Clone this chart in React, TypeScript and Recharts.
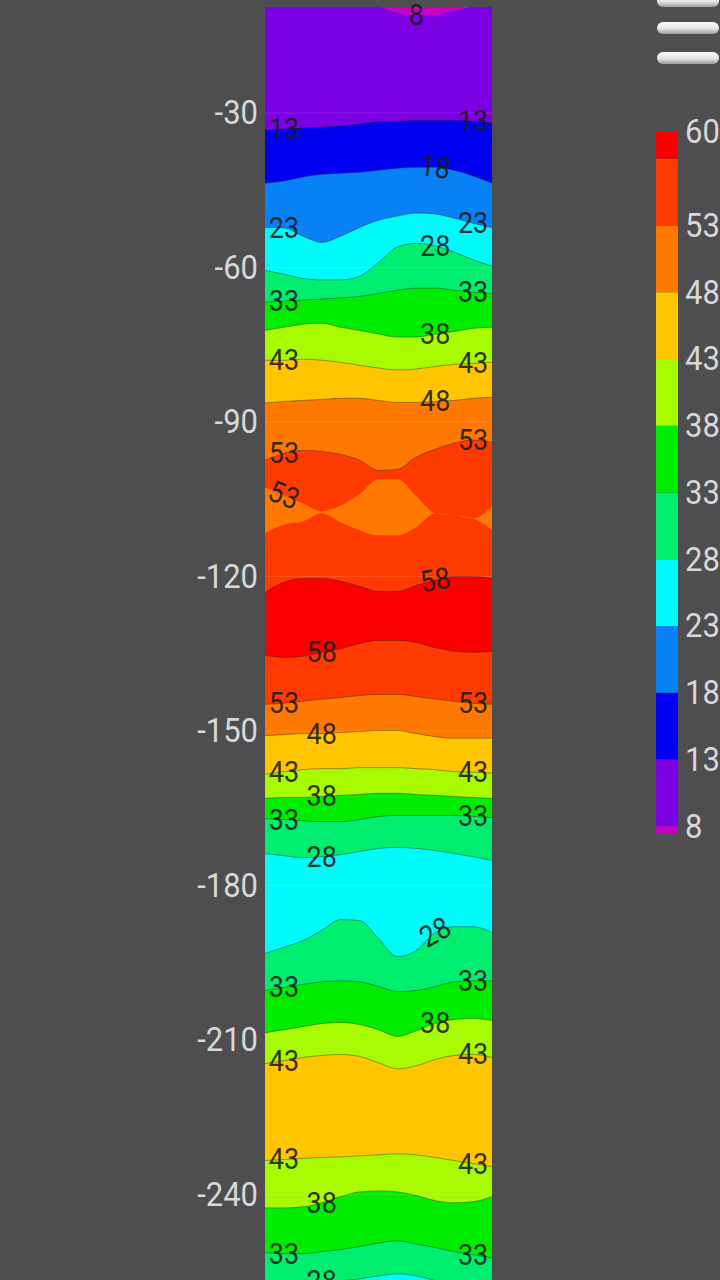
import React from "react";
import { ComposedChart, Area, XAxis, YAxis, CartesianGrid, Scatter, ReferenceLine, BarChart, Bar } from "recharts";

// columns across the strip (left edge = 0, right edge = 12)
const xs = [0, 1, 2, 3, 4, 5, 6, 7, 8, 9, 10, 11, 12];
const TOP = -9.4;
const BOTTOM = -270;
const depthTicks = [-30, -60, -90, -120, -150, -180, -210, -240];

// contour line depths, one value per column, top of the strip to the bottom
const isle8 = [TOP, TOP, TOP, TOP, TOP, TOP, TOP, -10.6, -11.0, -11.0, -10.2, TOP, TOP];
const c13 = [-33.3, -33.1, -32.9, -32.7, -32.5, -32.1, -31.7, -31.6, -31.4, -31.4, -31.4, -31.6, -31.9];
const c18 = [-43.6, -43.2, -42.4, -41.9, -41.7, -41.5, -41.1, -40.7, -40.5, -40.5, -41.1, -42.2, -43.6];
const c23 = [-52.2, -52.3, -53.9, -55.1, -53.9, -52.2, -50.8, -50.0, -49.4, -49.6, -50.4, -51.4, -52.2];
const c28 = [-60.5, -61.3, -62.1, -62.4, -62.4, -61.7, -59.0, -56.0, -55.3, -55.8, -57.0, -58.5, -59.7];
const c33 = [-66.7, -66.5, -66.3, -66.1, -65.9, -65.6, -65.0, -64.4, -64.0, -64.0, -64.4, -64.8, -65.0];
const c38 = [-72.2, -71.6, -71.0, -70.8, -71.6, -72.2, -72.9, -73.5, -73.5, -72.9, -72.4, -71.8, -71.6];
const c43 = [-78.0, -78.0, -77.8, -78.0, -78.4, -79.0, -79.5, -79.9, -79.7, -79.2, -78.8, -78.6, -78.4];
const c48 = [-86.3, -86.0, -85.8, -85.6, -85.4, -85.4, -85.8, -86.2, -86.2, -86.0, -85.8, -85.4, -85.2];
const c53a = [-97.4, -96.1, -95.5, -95.7, -96.3, -97.4, -99.4, -99.2, -96.8, -95.3, -94.1, -93.5, -93.9];
const isleTop = [-102.7, -104.2, -105.8, -107.3, -106.2, -104.0, -101.1, -101.1, -104.4, -107.7, -108.1, -108.7, -106.4];
const isleBot = [-111.6, -109.9, -109.3, -107.7, -109.5, -111.0, -112.0, -112.0, -110.4, -107.7, -108.1, -108.7, -111.0];
const c58a = [-123.1, -121.1, -120.4, -120.4, -120.9, -121.9, -122.9, -122.9, -121.7, -120.7, -120.0, -120.0, -120.4];
const c58b = [-135.3, -135.7, -135.5, -134.7, -134.0, -133.0, -132.4, -132.4, -132.8, -133.8, -134.5, -134.7, -134.5];
const c53b = [-144.8, -144.6, -144.2, -143.8, -143.5, -143.1, -142.9, -142.9, -143.3, -143.8, -144.2, -144.6, -144.8];
const c48b = [-150.9, -150.7, -150.5, -150.5, -150.3, -150.1, -149.9, -149.9, -150.5, -151.1, -151.4, -151.4, -151.4];
const c43b = [-158.4, -157.9, -157.5, -157.3, -157.3, -157.1, -157.1, -157.1, -157.3, -157.5, -157.9, -158.0, -158.2];
const c38b = [-163.1, -162.9, -162.9, -162.7, -162.5, -162.3, -162.1, -162.1, -162.3, -162.5, -162.7, -162.9, -163.1];
const c33b = [-167.0, -167.2, -167.4, -167.6, -167.6, -167.2, -166.6, -166.4, -166.4, -166.4, -166.4, -166.6, -166.8];
const c28b = [-173.8, -174.2, -174.6, -174.4, -174.0, -173.4, -172.8, -172.6, -172.8, -173.2, -173.8, -174.4, -175.1];
const c28c = [-193.2, -192.0, -190.7, -188.7, -186.6, -186.8, -190.3, -193.8, -192.6, -189.1, -188.0, -188.0, -189.1];
const c33c = [-200.4, -199.8, -199.2, -198.7, -198.5, -198.7, -199.6, -200.6, -200.4, -199.6, -198.7, -198.5, -198.5];
const c38c = [-208.6, -208.0, -207.4, -206.8, -206.6, -207.0, -208.0, -209.3, -208.2, -206.8, -206.0, -205.8, -206.2];
const c43c = [-214.6, -214.0, -213.4, -213.0, -212.8, -213.2, -214.4, -215.6, -215.0, -213.8, -213.0, -212.8, -213.4];
const c43d = [-233.4, -233.2, -233.0, -232.8, -232.7, -232.5, -232.3, -232.1, -232.3, -232.8, -233.4, -234.0, -234.6];
const c38d = [-242.6, -242.6, -242.4, -241.6, -240.4, -239.5, -239.3, -239.5, -240.2, -241.2, -241.6, -241.4, -240.4];
const c33d = [-251.3, -251.5, -251.5, -251.1, -250.7, -250.1, -249.4, -249.0, -249.6, -250.3, -251.1, -251.7, -252.3];
const c28d = [-258.3, -257.7, -257.3, -256.9, -256.7, -256.4, -255.8, -255.4, -255.8, -256.7, -257.7, -258.5, -259.1];

// colour scale
const cbLevels = [7.5, 8, 13, 18, 23, 28, 33, 38, 43, 48, 53, 58, 60];
const cbTicks = [8, 13, 18, 23, 28, 33, 38, 43, 48, 53, 60];

const MAGENTA = "#c800c8";
const PURPLE = "#7c00e4";
const BLUE = "#0000f0";
const AZURE = "#0880f6";
const CYAN = "#00fafa";
const SPRING = "#00ee70";
const GREEN = "#00ec00";
const YGREEN = "#a8fa00";
const GOLD = "#ffc600";
const ORANGE = "#ff7800";
const RORANGE = "#ff3a00";
const RED = "#fa0000";
const cbColors = [MAGENTA, PURPLE, BLUE, AZURE, CYAN, SPRING, GREEN, YGREEN, GOLD, ORANGE, RORANGE, RED];

const lines: Record<string, number[]> = {
  isle8, c13, c18, c23, c28, c33, c38, c43, c48, c53a, isleTop, isleBot,
  c58a, c58b, c53b, c48b, c43b, c38b, c33b, c28b, c28c, c33c, c38c, c43c, c43d, c38d, c33d, c28d,
};

// each band is painted from its upper contour down, in order
const bands = [
  { key: "c13", fill: BLUE, level: 13, at: [1, 11] },
  { key: "c18", fill: AZURE, level: 18, at: [9] },
  { key: "c23", fill: CYAN, level: 23, at: [1, 11] },
  { key: "c28", fill: SPRING, level: 28, at: [9] },
  { key: "c33", fill: GREEN, level: 33, at: [1, 11] },
  { key: "c38", fill: YGREEN, level: 38, at: [9] },
  { key: "c43", fill: GOLD, level: 43, at: [1, 11] },
  { key: "c48", fill: ORANGE, level: 48, at: [9] },
  { key: "c53a", fill: RORANGE, level: 53, at: [1, 11] },
  { key: "c58a", fill: RED, level: 58, at: [9] },
  { key: "c58b", fill: RORANGE, level: 58, at: [3] },
  { key: "c53b", fill: ORANGE, level: 53, at: [1, 11] },
  { key: "c48b", fill: GOLD, level: 48, at: [3] },
  { key: "c43b", fill: YGREEN, level: 43, at: [1, 11] },
  { key: "c38b", fill: GREEN, level: 38, at: [3] },
  { key: "c33b", fill: SPRING, level: 33, at: [1, 11] },
  { key: "c28b", fill: CYAN, level: 28, at: [3] },
  { key: "c28c", fill: SPRING, level: 28, at: [9] },
  { key: "c33c", fill: GREEN, level: 33, at: [1, 11] },
  { key: "c38c", fill: YGREEN, level: 38, at: [9] },
  { key: "c43c", fill: GOLD, level: 43, at: [1, 11] },
  { key: "c43d", fill: YGREEN, level: 43, at: [1, 11] },
  { key: "c38d", fill: GREEN, level: 38, at: [3] },
  { key: "c33d", fill: SPRING, level: 33, at: [1, 11] },
  { key: "c28d", fill: CYAN, level: 28, at: [3] },
];

const rotations: Record<string, number> = { "c28c:9": -30, "c58a:9": -10, "isleTop:1": 22, "c18:9": 8 };

const rows = xs.map((x, i) => {
  const r: Record<string, number> = { x };
  Object.keys(lines).forEach((k) => { r[k] = lines[k][i]; });
  return r;
});

const labelPts = [
  ...bands.flatMap((b) => b.at.map((i) => ({ x: xs[i], y: lines[b.key][i], text: b.level, rot: rotations[`${b.key}:${i}`] || 0 }))),
  { x: xs[1], y: isleTop[1], text: 53, rot: rotations["isleTop:1"] },
  { x: xs[8], y: isle8[8], text: 8, rot: 0 },
];

const cbRow: Record<string, number | string> = { name: "scale", base: cbLevels[0] };
cbColors.forEach((_, i) => { cbRow["s" + i] = cbLevels[i + 1] - cbLevels[i]; });

const FONT = "Roboto, sans-serif";

const ContourLabel = (p: any) => {
  const { cx, cy, payload } = p;
  return (
    <g transform={`translate(${cx},${cy}) rotate(${payload.rot}) scale(1,1.1)`}>
      <text x={0} y={0} textAnchor="middle" dominantBaseline="central" fontSize={27}
        fontFamily={FONT} fill="#1a1a1a" fillOpacity={0.9}>
        {payload.text}
      </text>
    </g>
  );
};

const makeTick = (anchor: "start" | "end") => (p: any) => (
  <g transform={`translate(${p.x},${p.y}) scale(1,1.08)`}>
    <text x={0} y={0} textAnchor={anchor} dominantBaseline="central" fontSize={31}
      fontFamily={FONT} fill="#d8d8d8">
      {p.payload.value}
    </text>
  </g>
);
const DepthTick = makeTick("end");
const ScaleTick = makeTick("start");

const menuBars = [-5, 22, 52];

export default function App() {
  return (
    <div style={{ position: "fixed", left: 0, top: 0, width: 720, height: 1280, background: "#4e4e50", overflow: "hidden" }}>
      <div style={{ position: "absolute", left: 0, top: 0 }}>
        <ComposedChart width={492} height={1349} data={rows} margin={{ top: 7, right: 0, bottom: 0, left: 0 }}>
          <CartesianGrid fill={PURPLE} stroke="none" horizontal={false} vertical={false} />
          <XAxis dataKey="x" type="number" domain={[0, 12]} hide />
          <YAxis type="number" domain={[BOTTOM, TOP]} ticks={depthTicks} width={265}
            axisLine={false} tickLine={false} tickSize={5} tickMargin={2} interval={0} tick={DepthTick} />
          {bands.map((b) => (
            <Area key={b.key} dataKey={b.key} type="monotone" baseValue={BOTTOM} fill={b.fill} fillOpacity={1}
              stroke="rgba(30,30,30,0.4)" strokeWidth={1} dot={false} activeDot={false} isAnimationActive={false} />
          ))}
          <Area dataKey={(d: any) => [d.isleBot, d.isleTop]} type="monotone" fill={ORANGE} fillOpacity={1}
            stroke="none" dot={false} activeDot={false} isAnimationActive={false} />
          <Area dataKey={(d: any) => [d.isle8, TOP]} type="monotone" fill={MAGENTA} fillOpacity={1}
            stroke="none" dot={false} activeDot={false} isAnimationActive={false} />
          {depthTicks.map((t) => (
            <ReferenceLine key={t} y={t} stroke="rgba(255,255,255,0.12)" strokeWidth={1} />
          ))}
          <Scatter data={labelPts} dataKey="y" shape={ContourLabel} isAnimationActive={false} />
        </ComposedChart>
      </div>
      <div style={{ position: "absolute", left: 656, top: 112 }}>
        <BarChart width={90} height={741} data={[cbRow]} margin={{ top: 20, right: 0, bottom: 20, left: 0 }}
          barCategoryGap={0} barGap={0}>
          <XAxis dataKey="name" hide />
          <YAxis orientation="right" type="number" domain={[7.5, 60]} ticks={cbTicks} width={68} allowDataOverflow
            axisLine={false} tickLine={false} tickSize={3} tickMargin={4} interval={0} tick={ScaleTick} />
          <Bar dataKey="base" stackId="cb" fill="transparent" isAnimationActive={false} />
          {cbColors.map((c, i) => (
            <Bar key={c + i} dataKey={"s" + i} stackId="cb" fill={c} isAnimationActive={false} />
          ))}
        </BarChart>
      </div>
      {menuBars.map((top) => (
        <div key={top} style={{
          position: "absolute", left: 657, top, width: 62, height: 12, borderRadius: 6,
          background: "linear-gradient(#fbfbfb 0%, #e4e4e4 55%, #9c9c9c 100%)",
        }} />
      ))}
    </div>
  );
}
